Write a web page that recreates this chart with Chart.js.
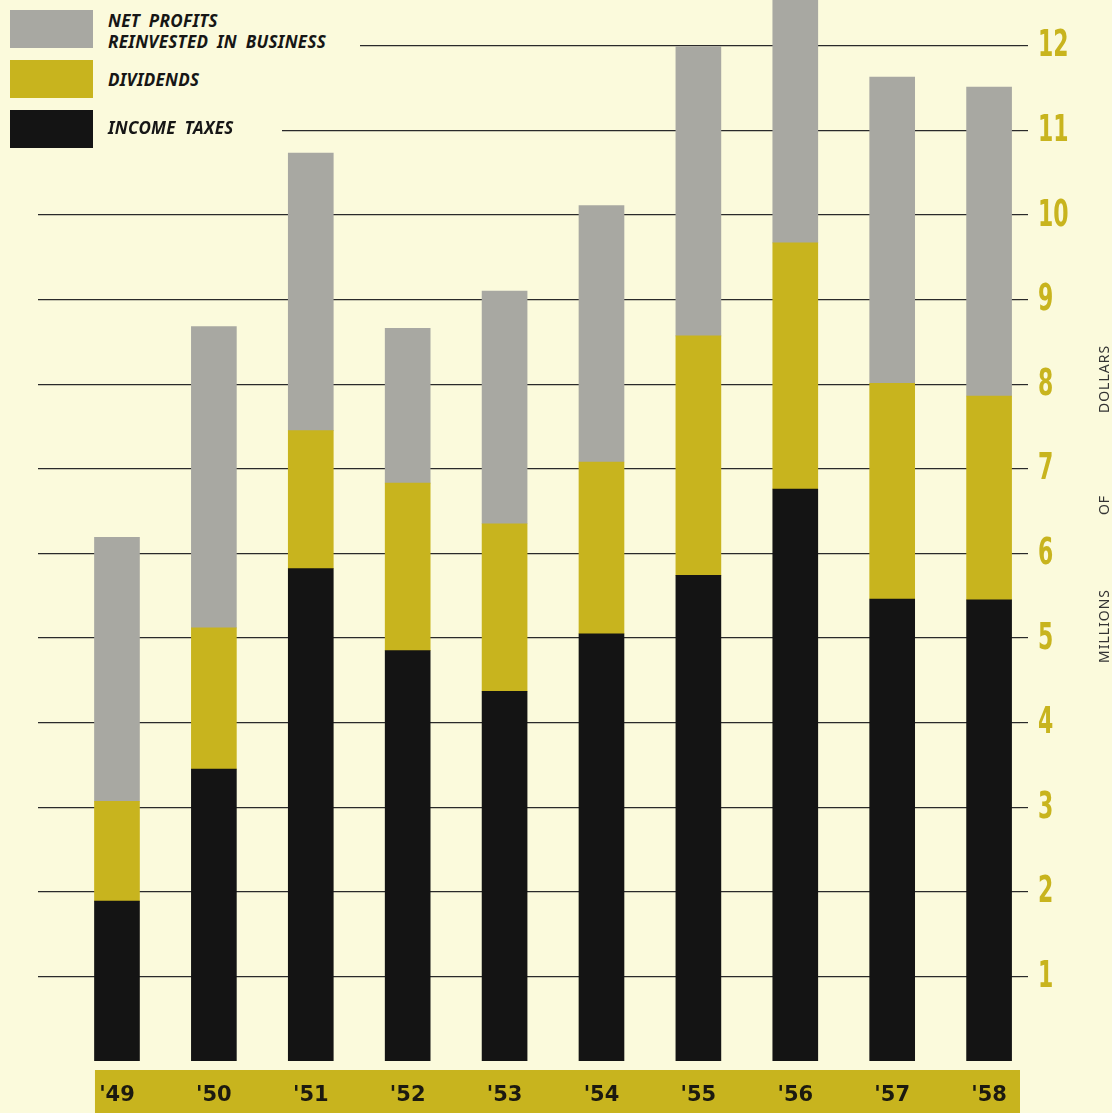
<!DOCTYPE html>
<html>
<head>
<meta charset="utf-8">
<script src="https://cdn.jsdelivr.net/npm/chart.js@4.4.0/dist/chart.umd.min.js"></script>
<style>
  html, body { margin: 0; padding: 0; background: #fbfadc; }
  #wrap { position: relative; width: 1112px; height: 1113px; overflow: hidden; background: #fbfadc; }
  canvas { position: absolute; left: 0; top: 0; }
  .leg { position: absolute; left: 0; background: #fbfadc; font-family: "Noto Sans", sans-serif; font-weight: bold; font-style: italic; font-size: 17px; color: #161616; word-spacing: 4px; letter-spacing: 0.3px; }
  .sw { position: absolute; left: 10px; width: 83px; height: 38px; }
  .lt { position: absolute; left: 108px; line-height: 21px; white-space: nowrap; }
  .vt { position: absolute; font-family: "Noto Sans", sans-serif; font-size: 14px; color: #333; letter-spacing: 1px; transform: translate(-50%, -50%) rotate(-90deg); white-space: nowrap; }
</style>
</head>
<body>
<div id="wrap">
  <canvas id="chart" width="1112" height="1113"></canvas>
  <div class="leg" style="top:0;width:360px;height:56px;">
    <div class="sw" style="top:10px;background:#a8a8a2;"></div>
    <div class="lt" style="top:10px;">NET PROFITS<br>REINVESTED IN BUSINESS</div>
  </div>
  <div class="leg" style="top:56px;width:210px;height:46px;">
    <div class="sw" style="top:4px;background:#c8b41e;"></div>
    <div class="lt" style="top:13px;">DIVIDENDS</div>
  </div>
  <div class="leg" style="top:104px;width:282px;height:50px;">
    <div class="sw" style="top:6px;background:#141414;"></div>
    <div class="lt" style="top:13px;">INCOME TAXES</div>
  </div>
  <div class="vt" style="left:1103px;top:626px;">MILLIONS</div>
  <div class="vt" style="left:1103px;top:505px;">OF</div>
  <div class="vt" style="left:1103px;top:379px;">DOLLARS</div>
</div>
<script>
const years = [49, 50, 51, 52, 53, 54, 55, 56, 57, 58];
const incomeTaxes = [1.89, 3.45, 5.82, 4.85, 4.37, 5.05, 5.74, 6.76, 5.46, 5.45];
const dividends = [1.18, 1.67, 1.63, 1.98, 1.98, 2.03, 2.83, 2.91, 2.55, 2.41];
const reinvested = [3.12, 3.56, 3.28, 1.83, 2.75, 3.03, 3.42, 3.0, 3.62, 3.65];
const yTicks = [1, 2, 3, 4, 5, 6, 7, 8, 9, 10, 11, 12];

const cream = '#fbfadc';
const gold = '#c8b41e';

function pts(vals) {
  return years.map((y, i) => ({ x: y, y: vals[i] }));
}

// yellow band behind the year labels
const yearBand = {
  id: 'yearBand',
  beforeDraw(chart) {
    const xs = chart.scales.x;
    const ctx = chart.ctx;
    const left = xs.getPixelForValue(years[0]) - 22;
    ctx.save();
    ctx.fillStyle = gold;
    ctx.fillRect(left, xs.top + 9, chart.chartArea.right - left, xs.bottom - xs.top);
    ctx.restore();
  }
};

// condensed gold numbers on the right axis
const yNumbers = {
  id: 'yNumbers',
  afterDraw(chart) {
    const ys = chart.scales.y;
    const ctx = chart.ctx;
    ctx.save();
    ctx.fillStyle = gold;
    ctx.font = 'bold 37px "DejaVu Sans Condensed", "DejaVu Sans", sans-serif';
    ctx.textBaseline = 'middle';
    ctx.textAlign = 'left';
    yTicks.forEach(v => {
      const y = ys.getPixelForValue(v);
      ctx.save();
      ctx.translate(chart.chartArea.right + 18, y + 1);
      ctx.scale(0.66, 1);
      ctx.fillText(String(v), 0, 0);
      ctx.restore();
    });
    ctx.restore();
  }
};

new Chart(document.getElementById('chart').getContext('2d'), {
  type: 'bar',
  data: {
    datasets: [
      { label: 'INCOME TAXES', data: pts(incomeTaxes), backgroundColor: '#141414' },
      { label: 'DIVIDENDS', data: pts(dividends), backgroundColor: gold },
      { label: 'NET PROFITS REINVESTED IN BUSINESS', data: pts(reinvested), backgroundColor: '#a8a8a2' }
    ]
  },
  options: {
    responsive: false,
    animation: false,
    barThickness: 45,
    layout: { padding: { left: 38, right: 0, top: 0, bottom: 0 } },
    plugins: { legend: { display: false }, tooltip: { enabled: false } },
    scales: {
      x: {
        type: 'linear',
        stacked: true,
        offset: false,
        min: 48.185,
        max: 58.319,
        grid: { display: false, drawTicks: false },
        border: { display: false },
        afterFit: s => { s.height = 52; s.paddingLeft = 0; s.paddingRight = 0; },
        ticks: {
          stepSize: 1,
          includeBounds: false,
          padding: 22,
          color: '#1c1a10',
          font: { family: 'DejaVu Sans', weight: 'bold', size: 21 },
          callback: v => years.includes(v) ? "'" + v : ''
        }
      },
      y: {
        position: 'right',
        stacked: true,
        min: 0,
        max: 12.54,
        afterBuildTicks: axis => { axis.ticks = yTicks.map(v => ({ value: v })); },
        afterFit: s => { s.width = 92; s.paddingTop = 0; s.paddingBottom = 0; },
        grid: { color: '#2a2a2a', lineWidth: 1.2, tickLength: 8 },
        border: { display: false },
        ticks: { display: false }
      }
    }
  },
  plugins: [yearBand, yNumbers]
});
</script>
</body>
</html>
